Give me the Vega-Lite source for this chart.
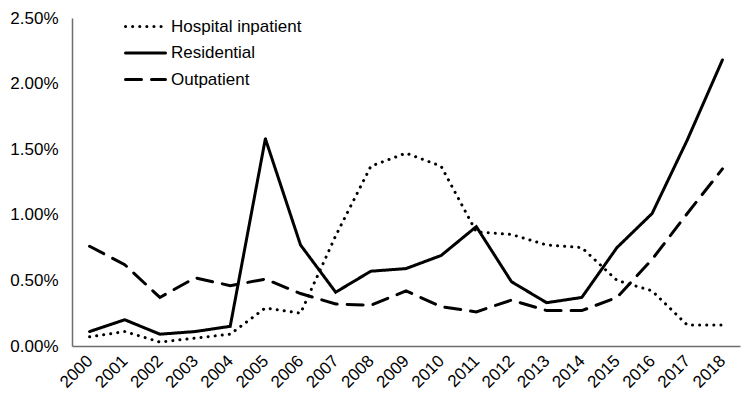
{
  "$schema": "https://vega.github.io/schema/vega-lite/v6.json",
  "autosize": "none",
  "width": 668,
  "height": 328,
  "padding": {"left": 72, "top": 18, "right": 8, "bottom": 56},
  "background": "white",
  "config": {
    "view": {"stroke": null},
    "font": "Liberation Sans",
    "axis": {"grid": false, "ticks": false, "domainColor": "#6e6e6e", "domainWidth": 1.5, "labelColor": "#000000", "labelFont": "Liberation Sans", "labelFontSize": 17, "title": null}
  },
  "data": {"values": [
    {"year": "2000", "series": "Hospital inpatient", "v": 0.0007},
    {"year": "2001", "series": "Hospital inpatient", "v": 0.0011},
    {"year": "2002", "series": "Hospital inpatient", "v": 0.0003},
    {"year": "2003", "series": "Hospital inpatient", "v": 0.0006},
    {"year": "2004", "series": "Hospital inpatient", "v": 0.0009},
    {"year": "2005", "series": "Hospital inpatient", "v": 0.0029},
    {"year": "2006", "series": "Hospital inpatient", "v": 0.0025},
    {"year": "2007", "series": "Hospital inpatient", "v": 0.0084},
    {"year": "2008", "series": "Hospital inpatient", "v": 0.0137},
    {"year": "2009", "series": "Hospital inpatient", "v": 0.0147},
    {"year": "2010", "series": "Hospital inpatient", "v": 0.0137},
    {"year": "2011", "series": "Hospital inpatient", "v": 0.0087},
    {"year": "2012", "series": "Hospital inpatient", "v": 0.0085},
    {"year": "2013", "series": "Hospital inpatient", "v": 0.0077},
    {"year": "2014", "series": "Hospital inpatient", "v": 0.0075},
    {"year": "2015", "series": "Hospital inpatient", "v": 0.0050},
    {"year": "2016", "series": "Hospital inpatient", "v": 0.0042},
    {"year": "2017", "series": "Hospital inpatient", "v": 0.0016},
    {"year": "2018", "series": "Hospital inpatient", "v": 0.0016},
    {"year": "2000", "series": "Residential", "v": 0.0011},
    {"year": "2001", "series": "Residential", "v": 0.0020},
    {"year": "2002", "series": "Residential", "v": 0.0009},
    {"year": "2003", "series": "Residential", "v": 0.0011},
    {"year": "2004", "series": "Residential", "v": 0.0015},
    {"year": "2005", "series": "Residential", "v": 0.0158},
    {"year": "2006", "series": "Residential", "v": 0.0077},
    {"year": "2007", "series": "Residential", "v": 0.0041},
    {"year": "2008", "series": "Residential", "v": 0.0057},
    {"year": "2009", "series": "Residential", "v": 0.0059},
    {"year": "2010", "series": "Residential", "v": 0.0069},
    {"year": "2011", "series": "Residential", "v": 0.0091},
    {"year": "2012", "series": "Residential", "v": 0.0049},
    {"year": "2013", "series": "Residential", "v": 0.0033},
    {"year": "2014", "series": "Residential", "v": 0.0037},
    {"year": "2015", "series": "Residential", "v": 0.0075},
    {"year": "2016", "series": "Residential", "v": 0.0101},
    {"year": "2017", "series": "Residential", "v": 0.0157},
    {"year": "2018", "series": "Residential", "v": 0.0218},
    {"year": "2000", "series": "Outpatient", "v": 0.0076},
    {"year": "2001", "series": "Outpatient", "v": 0.0062},
    {"year": "2002", "series": "Outpatient", "v": 0.0037},
    {"year": "2003", "series": "Outpatient", "v": 0.0052},
    {"year": "2004", "series": "Outpatient", "v": 0.0046},
    {"year": "2005", "series": "Outpatient", "v": 0.0051},
    {"year": "2006", "series": "Outpatient", "v": 0.0040},
    {"year": "2007", "series": "Outpatient", "v": 0.0032},
    {"year": "2008", "series": "Outpatient", "v": 0.0031},
    {"year": "2009", "series": "Outpatient", "v": 0.0042},
    {"year": "2010", "series": "Outpatient", "v": 0.0030},
    {"year": "2011", "series": "Outpatient", "v": 0.0026},
    {"year": "2012", "series": "Outpatient", "v": 0.0035},
    {"year": "2013", "series": "Outpatient", "v": 0.0027},
    {"year": "2014", "series": "Outpatient", "v": 0.0027},
    {"year": "2015", "series": "Outpatient", "v": 0.0037},
    {"year": "2016", "series": "Outpatient", "v": 0.0066},
    {"year": "2017", "series": "Outpatient", "v": 0.0101},
    {"year": "2018", "series": "Outpatient", "v": 0.0135}
  ]},
  "mark": {"type": "line", "color": "#000000", "strokeWidth": 3, "strokeCap": "round"},
  "encoding": {
    "x": {"field": "year", "type": "ordinal", "scale": {"paddingOuter": 0.5}, "axis": {"labelAngle": -45, "labelAlign": "right", "labelBaseline": "middle", "labelPadding": 12}},
    "y": {"field": "v", "type": "quantitative", "scale": {"domain": [0, 0.025], "nice": false}, "axis": {"format": ".2%", "values": [0, 0.005, 0.01, 0.015, 0.02, 0.025], "labelPadding": 14}},
    "strokeDash": {
      "field": "series", "type": "nominal",
      "scale": {"domain": ["Hospital inpatient", "Residential", "Outpatient"], "range": [[0.1, 7], [1, 0], [16, 10]]},
      "legend": {"title": null, "orient": "none", "legendX": 62, "legendY": -3, "symbolType": "M-2,0H2", "symbolSize": 400, "symbolStrokeWidth": 3, "symbolStrokeColor": "#000000", "symbolFillColor": "transparent", "labelFontSize": 17, "labelFont": "Liberation Sans", "labelColor": "#000000", "rowPadding": 6.5, "labelOffset": 14,
        "encode": {"symbols": {"update": {"strokeCap": {"value": "round"}}}}}
    },
    "detail": {"field": "series"}
  }
}
